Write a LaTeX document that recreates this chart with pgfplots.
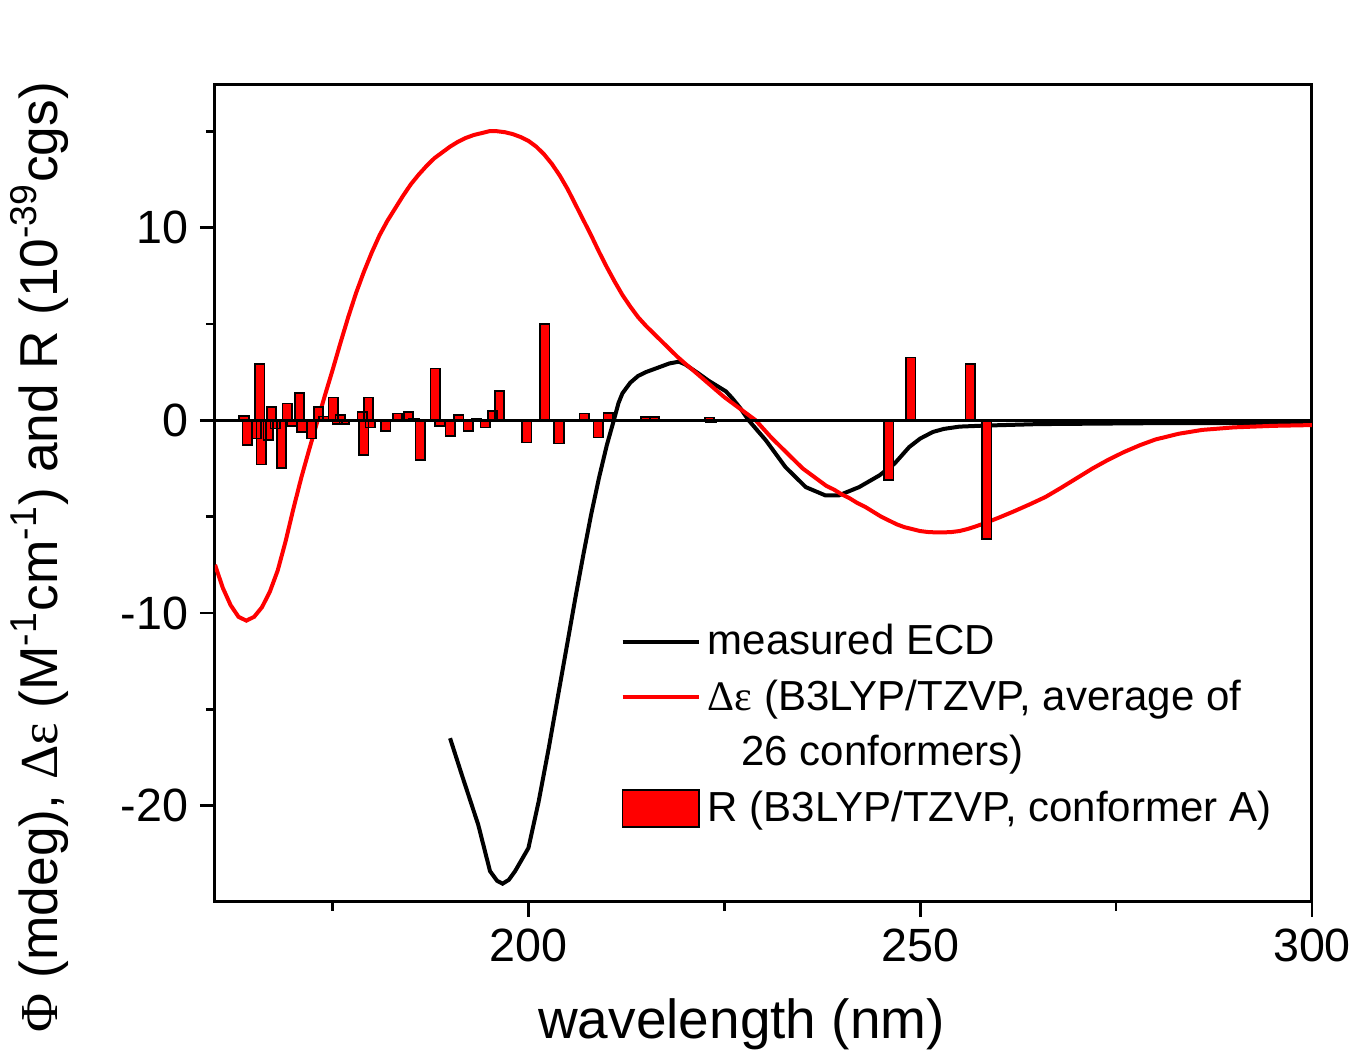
\documentclass[border=0pt]{standalone}
\usepackage{pgfplots}
\pgfplotsset{compat=1.18}
\usepackage{fontspec}
\setmainfont{Liberation Sans}
\newfontfamily\symf{Liberation Serif}
\usetikzlibrary{calc}
\begin{document}
\begin{tikzpicture}
\begin{axis}[
  scale only axis,
  width=329.1pt, height=245.1pt,
  xmin=160, xmax=300, ymin=-25, ymax=17.4,
  xtick={200,250,300}, minor xtick={175,225,275},
  ytick={-20,-10,0,10}, minor ytick={-15,-5,5,15},
  tick pos=left, tick align=outside,
  major tick length=4.5pt, minor tick length=2.7pt,
  every tick/.style={black, line width=0.8pt},
  axis line style={line width=0.9pt},
  /pgf/number format/assume math mode=true,
  ticklabel style={font=\fontsize{14}{16}\selectfont},
  xlabel={wavelength (nm)},
  xlabel style={font=\fontsize{16.5}{19}\selectfont, at={(axis description cs:0.48,-0.15)}, anchor=center},
  ylabel={{\symf Φ} (mdeg), {\symf Δε} (M\textsuperscript{-1}cm\textsuperscript{-1}) and R (10\textsuperscript{-39}cgs)},
  ylabel style={font=\fontsize{16}{19}\selectfont, at={(axis description cs:-0.16,0.422)}, anchor=center},
  legend image code/.code={\draw[#1] (0pt,0pt) -- (23pt,0pt);},
  legend cell align=left,
  legend style={at={(rel axis cs:0.36,0.357)}, anchor=north west, draw=none, fill=none,
    font=\fontsize{12.6}{15}\selectfont, row sep=2pt},
]
\addplot[black, line width=1.2pt] coordinates {
(190.0,-16.5) (191.5,-18.4) (193.6,-21.0) (195.1,-23.4) (196.0,-23.9) (196.7,-24.05) (197.5,-23.85) (198.3,-23.4) (200,-22.2)
(201.3,-19.8) (202.6,-17.0) (203.6,-14.7) (205,-11.5) (206,-9.2) (207,-7.0) (208,-4.9) (209,-3.0)
(210,-1.3) (210.9,0) (211.5,0.9) (212,1.4) (213,1.95) (214,2.3) (215,2.5) (216,2.65) (217,2.8)
(218,2.95) (219.2,3.04) (220,2.9) (221.7,2.43) (223,2.05) (224,1.8) (225.2,1.5) (226,1.15) (227,0.65)
(228.1,0) (230.3,-1.04) (232.8,-2.43) (235.4,-3.47) (237.9,-3.9) (239.6,-3.9) (242.2,-3.47)
(244.8,-2.86) (246.7,-2.26) (248.6,-1.39) (250,-0.95) (251.6,-0.61) (253,-0.45) (255,-0.33) (258,-0.28) (265,-0.2)
(280,-0.15) (300,-0.15)};
\addlegendentry{measured ECD}
\addplot[red, line width=1.2pt] coordinates {
(160,-7.5) (161,-8.7) (162,-9.6) (163,-10.2) (164,-10.4) (165,-10.2) (166,-9.7) (167,-8.9)
(168,-7.8) (169,-6.3) (170,-4.6) (171,-3.0) (172,-1.55) (173,-0.15) (174,1.25) (175,2.6) (176,4.0)
(177,5.35) (178,6.6) (179,7.7) (180,8.7) (181,9.6) (182,10.35) (183,11.0) (184,11.65) (185,12.25)
(186,12.75) (187,13.2) (188,13.6) (189,13.9) (190,14.2) (191,14.45) (192,14.65) (193,14.8)
(194,14.9) (195,15.0) (196,15.0) (197,14.95) (198,14.85) (199,14.7) (200,14.5) (201,14.2)
(202,13.8) (203,13.3) (204,12.7) (205,12.0) (206,11.2) (207,10.4) (208,9.6) (209,8.75) (210,7.95)
(211,7.2) (212,6.5) (213,5.9) (214,5.35) (215,4.9) (216,4.5) (217,4.1) (218,3.7) (219,3.3)
(220,2.94) (221,2.6) (222,2.25) (223,1.9) (224,1.55) (225,1.2) (226,0.9) (227,0.6) (228,0.3)
(229,0.0) (230,-0.45) (231,-0.9) (232,-1.3) (233,-1.7) (234,-2.1) (235,-2.5) (236,-2.8)
(237,-3.1) (238,-3.4) (239,-3.6) (240,-3.85) (241,-4.05) (242,-4.3) (243,-4.5) (244,-4.75)
(245,-5.0) (246,-5.2) (247,-5.4) (248,-5.55) (249,-5.65) (250,-5.75) (251,-5.8) (252,-5.82)
(253,-5.82) (254,-5.8) (255,-5.75) (256,-5.65) (257,-5.52) (258,-5.38) (259,-5.22) (260,-5.06)
(262,-4.72) (264,-4.36) (266,-3.98) (268,-3.5) (270,-3.0) (272,-2.5) (274,-2.05) (276,-1.65)
(278,-1.3) (280,-1.0) (283,-0.7) (286,-0.5) (290,-0.37) (295,-0.29) (300,-0.25)};
\addlegendentry{{\symf Δε} (B3LYP/TZVP, average of}
\addlegendimage{empty legend}
\addlegendentry{\hspace*{0.8em}26 conformers)}
\addplot[ybar, bar width=1.2, fill=red, draw=black, line width=0.5pt,
  legend image code/.code={\draw[fill=red,draw=black,line width=0.5pt] (0pt,-5.5pt) rectangle (23pt,5.5pt);}]
coordinates {
(163.7,0.21) (164.1,-1.27) (165.3,-0.95) (165.7,2.92) (165.9,-2.29) (166.8,-1.04) (167.2,0.69)
(167.7,-0.43) (168.5,-2.47) (169.2,0.87) (169.8,-0.3) (170.8,1.42) (171.1,-0.6) (172.3,-0.95)
(173.2,0.69) (173.9,0.2) (175.1,1.18) (175.6,-0.2) (176.0,0.26) (176.5,-0.2) (178.8,0.43)
(179.0,-1.82) (179.6,1.18) (179.8,-0.38) (181.8,-0.56) (183.3,0.35) (184.7,0.43) (185.4,0.1)
(186.2,-2.05) (188.1,2.69) (188.7,-0.31) (190.0,-0.8) (191.1,0.28) (192.3,-0.56) (193.4,0.1)
(194.5,-0.38) (195.4,0.47) (196.3,1.53) (197.7,-0.07) (199.8,-1.15) (202.1,5.0) (203.9,-1.2)
(207.1,0.35) (208.9,-0.9) (210.2,0.38) (215.0,0.17) (216.1,0.17) (223.1,0.14) (223.3,-0.1)
(246.0,-3.09) (248.8,3.26) (256.4,2.92) (258.5,-6.15)};
\addlegendentry{R (B3LYP/TZVP, conformer A)}
\addplot[black, line width=0.8pt, forget plot] coordinates {(160,0) (300,0)};
\end{axis}
\pgfresetboundingbox
\path[use as bounding box] ($(current axis.south west)+(-64.5pt,-47.1pt)$) rectangle ($(current axis.north east)+(11.4pt,25.5pt)$);
\end{tikzpicture}
\end{document}
